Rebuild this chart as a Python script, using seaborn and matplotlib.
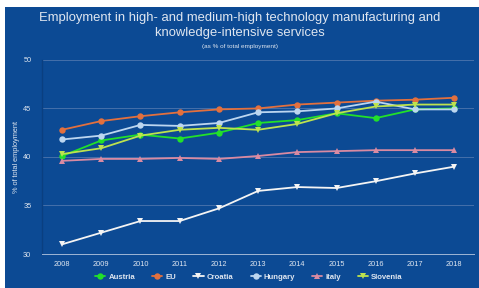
import pandas as pd
import numpy as np
import matplotlib
matplotlib.use('Agg')
import matplotlib.pyplot as plt
import seaborn as sns
from matplotlib.patches import Rectangle

# values (% of total employment)
years = [2008, 2009, 2010, 2011, 2012, 2013, 2014, 2015, 2016, 2017, 2018]
austria = [40.1, 41.7, 42.3, 41.9, 42.5, 43.5, 43.8, 44.5, 44.0, 44.9, 45.0]
eu = [42.8, 43.7, 44.2, 44.6, 44.9, 45.0, 45.4, 45.6, 45.8, 45.9, 46.1]
croatia = [31.0, 32.2, 33.4, 33.4, 34.7, 36.5, 36.9, 36.8, 37.5, 38.3, 39.0]
hungary = [41.8, 42.2, 43.3, 43.2, 43.5, 44.6, 44.7, 45.0, 45.7, 44.9, 44.9]
italy = [39.6, 39.8, 39.8, 39.9, 39.8, 40.1, 40.5, 40.6, 40.7, 40.7, 40.7]
slovenia = [40.3, 40.9, 42.2, 42.8, 43.0, 42.8, 43.4, 44.5, 45.2, 45.4, 45.4]

countries = ['Austria', 'EU', 'Croatia', 'Hungary', 'Italy', 'Slovenia']
series = [austria, eu, croatia, hungary, italy, slovenia]

colors = {'Austria': '#22e02a', 'EU': '#e2703e', 'Croatia': '#f4f4f4',
          'Hungary': '#bcd6f0', 'Italy': '#d98aa2', 'Slovenia': '#bde34e'}
markers = {'Austria': 'o', 'EU': 'o', 'Croatia': 'v',
           'Hungary': 'o', 'Italy': '^', 'Slovenia': 'v'}

df = pd.DataFrame({
    'year': np.tile(years, len(countries)),
    'value': np.concatenate(series),
    'country': np.repeat(countries, len(years)),
})

bg = '#0c4a94'
txt = '#dfe6f0'

sns.set_theme(style='white')
plt.rcParams['font.family'] = ['Liberation Sans', 'DejaVu Sans']

fig = plt.figure(figsize=(4.79, 2.88), dpi=100, facecolor='white')
fig.patches.append(Rectangle((5 / 479, 0), 1, 1 - 7 / 288, transform=fig.transFigure,
                             facecolor=bg, edgecolor='none', zorder=-10))
ax = fig.add_axes([0.0887, 0.118, 0.9003, 0.674])
ax.set_facecolor(bg)

sns.lineplot(data=df, x='year', y='value', hue='country', style='country',
             palette=colors, markers=markers, dashes=False, markersize=4.6,
             markeredgewidth=0, linewidth=1.3, ax=ax, legend=False)

ax.set_xlim(2007.5, 2018.5)
ax.set_ylim(30, 50)
ax.set_yticks([30, 35, 40, 45, 50])
ax.set_xticks(years)
ax.set_xticks(np.arange(2007.5, 2019, 1), minor=True)
ax.tick_params(axis='x', which='major', length=0, labelsize=5.3, colors=txt, pad=5)
ax.tick_params(axis='x', which='minor', length=4, width=0.6, color='#9fb6d6', direction='out')
ax.tick_params(axis='y', length=5, width=0.6, color='#9fb6d6', labelsize=5.3, labelcolor=txt, pad=3)
ax.grid(axis='y', color='#4570aa', linewidth=0.7)
ax.set_xlabel('')
ax.set_ylabel('% of total employment', fontsize=5.3, color=txt)
ax.yaxis.set_label_coords(-0.052, 0.5)
for s in ['top', 'right']:
    ax.spines[s].set_visible(False)
ax.spines['left'].set_color('#0a3f80')
ax.spines['left'].set_linewidth(1.0)
ax.spines['bottom'].set_color('#9fb6d6')
ax.spines['bottom'].set_linewidth(0.7)

fig.text(0.5, 0.937, 'Employment in high- and medium-high technology manufacturing and',
         ha='center', va='center', fontsize=9.4, color=txt)
fig.text(0.5, 0.886, 'knowledge-intensive services', ha='center', va='center',
         fontsize=9.4, color=txt)
fig.text(0.5, 0.838, '(as % of total employment)', ha='center', va='center',
         fontsize=4.6, color=txt)

handles = [plt.Line2D([], [], color=colors[c], marker=markers[c], markersize=4.6,
                      markeredgewidth=0, linewidth=1.3) for c in countries]
leg = fig.legend(handles, countries, loc='center', bbox_to_anchor=(0.52, 0.038),
                 ncol=6, frameon=False, handlelength=1.3, handletextpad=0.4,
                 columnspacing=2.2, prop={'size': 5.6, 'weight': 'bold'})
for t in leg.get_texts():
    t.set_color(txt)

fig.savefig('out.png', dpi=100, facecolor=fig.get_facecolor())
